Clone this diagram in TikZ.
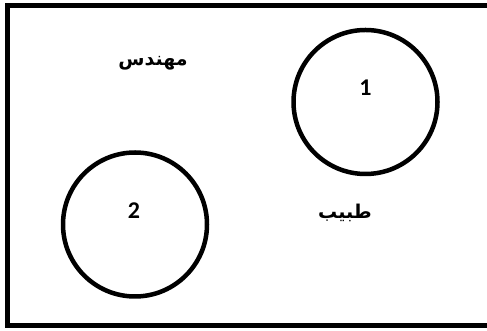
\documentclass[tikz,border=0pt]{standalone}
\usepackage{fontspec}
\setmainfont{Carlito}
\newfontfamily\arabicfont[Script=Arabic]{DejaVu Sans}
\TeXXeTstate=1
\begin{document}
\begin{tikzpicture}[x=1pt,y=1pt,
  ring/.style={circle,draw=black,line width=4.5pt,minimum size=144pt,inner sep=0pt},
  num/.style={font=\bfseries\fontsize{24}{26}\selectfont,inner sep=0pt},
  word/.style={font=\arabicfont\bfseries\fontsize{19}{22}\selectfont,inner sep=0pt}]
\useasboundingbox (0,0) rectangle (487,331);
\draw[line width=5pt] (7,5.5) rectangle (495,325.5);
\node[ring] (c1) at (365.5,229) {};
\node[ring] (c2) at (135,106.5) {};
\node[num] (n1) at (365.5,243) {1};
\node[num] (n2) at (134,120) {2};
\node[word] (w1) at (153,268) {\beginR مهندس\endR};
\node[word] (w2) at (345,118) {\beginR طبيب\endR};
\end{tikzpicture}
\end{document}
